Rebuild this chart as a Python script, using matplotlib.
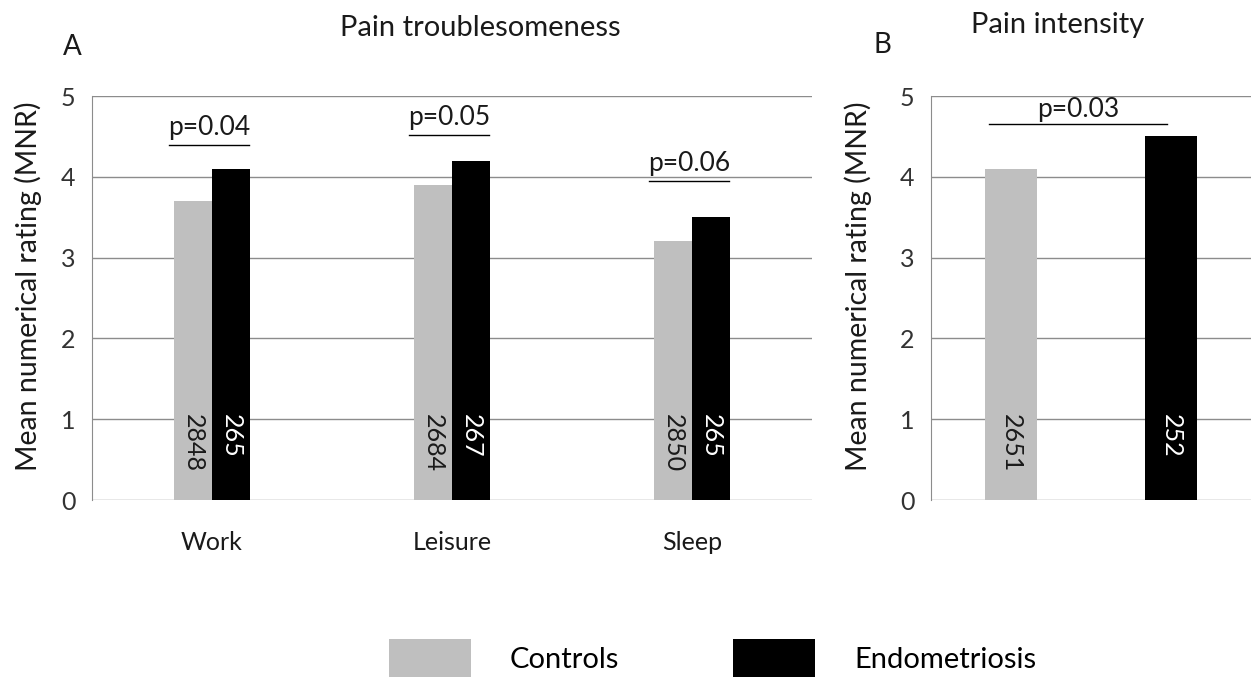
import matplotlib
matplotlib.use("Agg")
import matplotlib.pyplot as plt
from matplotlib.patches import Patch

plt.rcParams.update({"font.family": ["Lato", "DejaVu Sans"], "font.size": 18})

# panel A data
CATEGORIES = ["Work", "Leisure", "Sleep"]
CONTROLS = [3.7, 3.9, 3.2]
ENDO = [4.1, 4.2, 3.5]
N_CONTROLS = ["2848", "2684", "2850"]
N_ENDO = ["265", "267", "265"]
P_TEXT = ["p=0.04", "p=0.05", "p=0.06"]
P_LEVEL = [4.39, 4.52, 3.95]

# panel B data
B_CONTROLS = 4.1
B_ENDO = 4.5
B_N = ["2651", "252"]
B_P_TEXT = "p=0.03"
B_P_LEVEL = 4.65

GREY = "#bfbfbf"
GRID = "#8c8c8c"
INK = "#1a1a1a"
W, H = 1251, 684

fig = plt.figure(figsize=(W / 100, H / 100), dpi=100)
axA = fig.add_axes([92 / W, 184 / H, 720 / W, 404 / H])
axB = fig.add_axes([931 / W, 184 / H, 320 / W, 404 / H])


def style(ax, label_x):
    ax.set_ylim(0, 5)
    ax.set_yticks(range(6))
    ax.yaxis.grid(True, color=GRID, linewidth=1.0)
    ax.set_axisbelow(True)
    for s in ("top", "right", "bottom"):
        ax.spines[s].set_visible(False)
    ax.spines["left"].set_color(GRID)
    ax.tick_params(axis="y", length=0, pad=12, labelsize=18, labelcolor="#333333")
    ax.set_ylabel("Mean numerical rating (MNR)", fontsize=20.5, color=INK)
    ax.yaxis.set_label_coords(label_x, 0.53)


# ---- panel A
bw = 0.158
xs = list(range(len(CATEGORIES)))
axA.bar([x - bw / 2 for x in xs], CONTROLS, bw, color=GREY)
axA.bar([x + bw / 2 for x in xs], ENDO, bw, color="black")
style(axA, -0.069)
axA.set_xlim(-0.5, 2.5)
axA.set_xticks(xs)
axA.set_xticklabels(CATEGORIES)
axA.tick_params(axis="x", length=0, pad=22, labelsize=18, labelcolor=INK)
for x, nc, ne, pt, pl in zip(xs, N_CONTROLS, N_ENDO, P_TEXT, P_LEVEL):
    axA.text(x - bw / 2, 1.06, nc, rotation=-90, ha="center", va="top", fontsize=18, color=INK)
    axA.text(x + bw / 2, 1.06, ne, rotation=-90, ha="center", va="top", fontsize=18, color="white")
    axA.plot([x - 0.18, x + 0.155], [pl, pl], color="black", linewidth=1.0)
    axA.text(x - 0.01, pl + 0.06, pt, ha="center", va="bottom", fontsize=19, color=INK)

# ---- panel B
bwB = 0.325
axB.bar([0], [B_CONTROLS], bwB, color=GREY)
axB.bar([1], [B_ENDO], bwB, color="black")
style(axB, -0.184)
axB.set_xlim(-0.5, 1.5)
axB.set_xticks([])
axB.text(0, 1.06, B_N[0], rotation=-90, ha="center", va="top", fontsize=18, color=INK)
axB.text(1, 1.06, B_N[1], rotation=-90, ha="center", va="top", fontsize=18, color="white")
axB.plot([-0.1375, 0.975], [B_P_LEVEL, B_P_LEVEL], color="black", linewidth=1.0)
axB.text(0.42, B_P_LEVEL + 0.03, B_P_TEXT, ha="center", va="bottom", fontsize=19, color=INK)

# titles and panel letters
fig.text(480 / W, 1 - 28 / H, "Pain troublesomeness", ha="center", va="center", fontsize=21, color=INK)
fig.text(72 / W, 1 - 47 / H, "A", ha="center", va="center", fontsize=20, color=INK)
fig.text(1058 / W, 1 - 25 / H, "Pain intensity", ha="center", va="center", fontsize=21, color=INK)
fig.text(882 / W, 1 - 45 / H, "B", ha="center", va="center", fontsize=20, color=INK)

# legend
handles = [Patch(facecolor=GREY), Patch(facecolor="black")]
fig.legend(handles, ["Controls", "Endometriosis"], loc="upper left",
           bbox_to_anchor=(389 / W, 1 - 639 / H), ncol=2, frameon=False,
           fontsize=21, handlelength=2.8, handleheight=1.65, handletextpad=1.35,
           columnspacing=3.9, borderpad=0, borderaxespad=0)

fig.savefig("out.png", dpi=100)
